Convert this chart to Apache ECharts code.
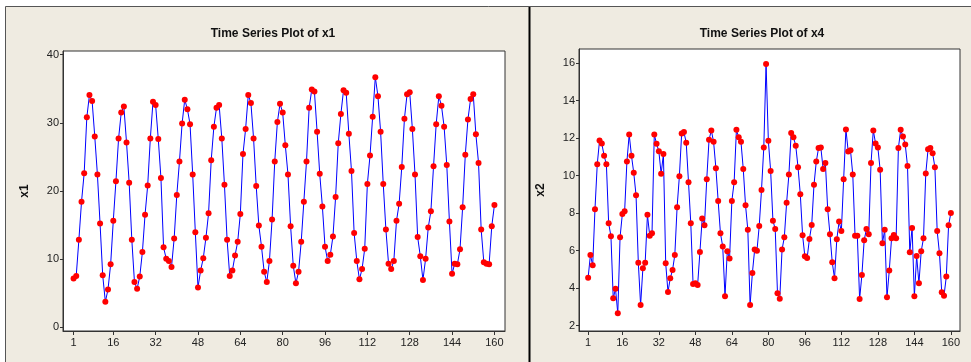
<!DOCTYPE html>
<html>
<head>
<meta charset="utf-8">
<script src="https://cdn.jsdelivr.net/npm/echarts@6/dist/echarts.min.js"></script>
<style>
  html, body { margin: 0; padding: 0; background: #ffffff; }
  #chart { width: 971px; height: 362px; }
</style>
</head>
<body>
<div id="chart"></div>
<script>
// values
var x1Values = [
    7.1, 7.5, 12.8, 18.4, 22.6, 30.8, 34.1, 33.2, 28.0, 22.4,
    15.2, 7.6, 3.7, 5.5, 9.2, 15.6, 21.4, 27.7, 31.5, 32.4,
    27.1, 21.2, 12.8, 6.6, 5.6, 7.4, 11.0, 16.5, 20.8, 27.7,
    33.1, 32.6, 27.6, 21.9, 11.7, 10.0, 9.7, 8.8, 13.0, 19.4,
    24.3, 29.9, 33.4, 32.0, 29.8, 22.4, 13.9, 5.8, 8.3, 10.1,
    13.1, 16.7, 24.5, 29.4, 32.2, 32.6, 27.7, 20.9, 12.8, 7.5,
    8.3, 10.5, 12.5, 16.6, 25.4, 29.1, 34.1, 32.9, 27.7, 20.7,
    14.9, 11.8, 8.1, 6.6, 9.7, 15.8, 24.3, 30.1, 32.8, 31.5,
    26.7, 22.4, 14.8, 9.0, 6.4, 8.1, 12.5, 18.4, 24.3, 32.2,
    34.9, 34.6, 28.7, 22.5, 17.7, 11.8, 9.7, 10.6, 13.3, 19.1,
    27.0, 31.3, 34.8, 34.4, 28.4, 22.9, 13.8, 9.7, 7.0, 8.5,
    11.5, 21.0, 25.2, 30.9, 36.7, 33.9, 28.7, 21.0, 14.3, 9.3,
    8.5, 9.7, 15.6, 18.1, 23.5, 30.6, 34.2, 34.5, 29.1, 22.4,
    13.2, 10.4, 6.9, 10.0, 14.6, 17.0, 23.6, 29.8, 33.9, 32.5,
    29.4, 23.8, 15.5, 7.8, 9.3, 9.2, 11.4, 17.6, 25.3, 30.5,
    33.5, 34.2, 28.3, 24.1, 14.3, 9.5, 9.3, 9.2, 14.8, 17.9
];
var x4Values = [
    4.56, 5.77, 5.22, 8.21, 10.61, 11.87, 11.71, 11.06, 10.61, 7.46,
    6.77, 3.46, 3.97, 2.66, 6.72, 7.96, 8.1, 10.75, 12.19, 11.06,
    10.15, 8.96, 5.36, 3.1, 5.06, 5.36, 7.91, 6.8, 6.93, 12.19,
    11.7, 11.3, 10.1, 11.15, 5.33, 3.8, 4.53, 4.97, 5.77, 8.32,
    9.97, 12.25, 12.32, 11.75, 9.65, 7.46, 4.23, 4.26, 4.17, 5.93,
    7.71, 7.36, 9.81, 11.91, 12.41, 11.8, 10.4, 8.65, 6.93, 6.22,
    3.57, 5.97, 5.58, 8.65, 9.65, 12.44, 12.05, 11.8, 10.36, 8.42,
    7.11, 3.1, 4.81, 6.06, 6.0, 7.32, 9.24, 11.5, 15.95, 11.86,
    10.25, 7.6, 7.16, 3.73, 3.44, 6.06, 6.72, 8.56, 10.06, 12.27,
    12.05, 11.6, 10.45, 9.01, 6.82, 5.7, 5.61, 6.63, 7.37, 9.51,
    10.75, 11.47, 11.5, 10.36, 10.67, 8.21, 6.88, 5.38, 4.53, 6.61,
    7.55, 7.05, 9.81, 12.46, 11.29, 11.36, 10.06, 6.8, 6.8, 3.42,
    4.71, 6.56, 7.16, 6.88, 10.67, 12.41, 11.71, 11.5, 10.31, 6.4,
    7.11, 3.52, 4.94, 6.66, 6.84, 6.66, 11.47, 12.44, 12.09, 11.66,
    10.51, 5.92, 7.21, 3.57, 5.72, 4.26, 5.97, 6.66, 10.11, 11.41,
    11.47, 11.2, 10.45, 7.05, 5.86, 3.78, 3.6, 4.62, 7.36, 8.01
];
var indexTicks = [1, 16, 32, 48, 64, 80, 96, 112, 128, 144, 160];
var x1Ticks = [0, 10, 20, 30, 40];
var x4Ticks = [2, 4, 6, 8, 10, 12, 14, 16];

function toPairs(values) {
    var out = [];
    for (var i = 0; i < values.length; i++) {
        out.push([i + 1, values[i]]);
    }
    return out;
}

var fontFam = "'Liberation Sans', Arial, sans-serif";
var labelStyle = { color: '#222', fontSize: 11, fontFamily: fontFam };

function xAxisFor(gridIndex) {
    return {
        type: 'value',
        gridIndex: gridIndex,
        min: -3,
        max: 164,
        splitLine: { show: false },
        axisLine: { show: true, onZero: false, lineStyle: { color: '#333', width: 1 } },
        axisTick: { show: true, inside: false, length: 4, customValues: indexTicks, lineStyle: { color: '#333' } },
        axisLabel: Object.assign({ margin: 6, customValues: indexTicks }, labelStyle)
    };
}

function yAxisFor(gridIndex, name, lo, hi, ticks) {
    return {
        type: 'value',
        gridIndex: gridIndex,
        min: lo,
        max: hi,
        name: name,
        nameLocation: 'middle',
        nameGap: 32,
        nameRotate: 90,
        nameTextStyle: { color: '#111', fontSize: 12, fontWeight: 'bold', fontFamily: fontFam },
        splitLine: { show: false },
        axisLine: { show: true, onZero: false, lineStyle: { color: '#333', width: 1 } },
        axisTick: { show: true, inside: false, length: 3, customValues: ticks, lineStyle: { color: '#333' } },
        axisLabel: Object.assign({ margin: 4, customValues: ticks }, labelStyle)
    };
}

function seriesFor(idx, values) {
    return {
        type: 'line',
        xAxisIndex: idx,
        yAxisIndex: idx,
        data: toPairs(values),
        symbol: 'circle',
        symbolSize: 6,
        showAllSymbol: true,
        lineStyle: { color: '#0000ff', width: 1 },
        itemStyle: { color: '#ff0000' },
        animation: false,
        z: 3
    };
}

var chart = echarts.init(document.getElementById('chart'));
var option = {
    backgroundColor: '#ffffff',
    animation: false,
    graphic: [
        {
            type: 'rect',
            z: -10,
            shape: { x: 5.5, y: 6.5, width: 1000, height: 400 },
            style: { fill: '#efebe1', stroke: '#555', lineWidth: 1 }
        },
        {
            type: 'line',
            z: -5,
            shape: { x1: 529.5, y1: 7, x2: 529.5, y2: 362 },
            style: { stroke: '#000', lineWidth: 2 }
        }
    ],
    title: [
        {
            text: 'Time Series Plot of x1',
            left: 268, top: 23, textAlign: 'center',
            textStyle: { fontSize: 12, fontWeight: 'bold', color: '#111', fontFamily: fontFam }
        },
        {
            text: 'Time Series Plot of x4',
            left: 757, top: 23, textAlign: 'center',
            textStyle: { fontSize: 12, fontWeight: 'bold', color: '#111', fontFamily: fontFam }
        }
    ],
    grid: [
        { left: 63, top: 51, width: 442, height: 280, show: true, backgroundColor: '#ffffff', borderColor: '#333', borderWidth: 1 },
        { left: 579, top: 49, width: 381, height: 282, show: true, backgroundColor: '#ffffff', borderColor: '#333', borderWidth: 1 }
    ],
    xAxis: [xAxisFor(0), xAxisFor(1)],
    yAxis: [
        yAxisFor(0, 'x1', -0.6, 40.55, x1Ticks),
        yAxisFor(1, 'x2', 1.72, 16.75, x4Ticks)
    ],
    series: [
        seriesFor(0, x1Values),
        seriesFor(1, x4Values)
    ]
};
chart.setOption(option);
</script>
</body>
</html>
